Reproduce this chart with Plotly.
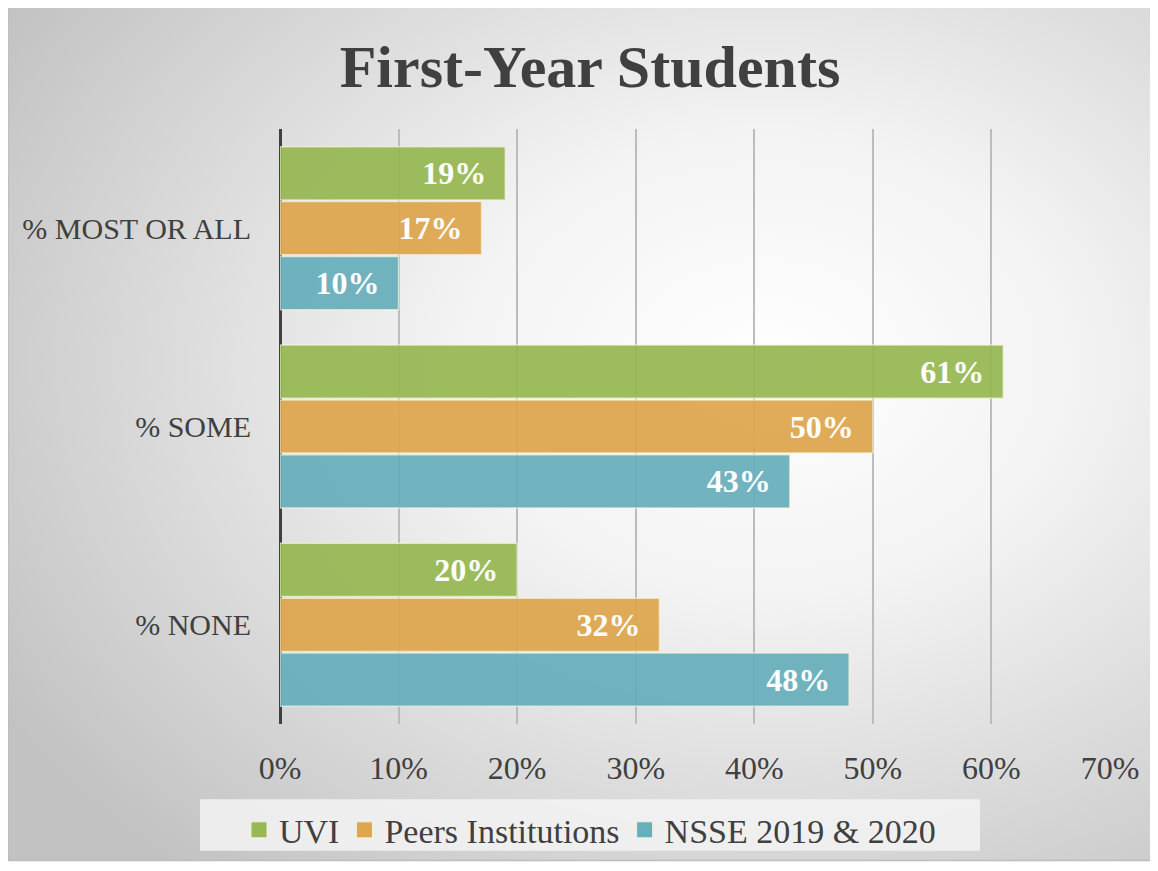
import base64
import plotly.graph_objects as go

categories = ["% MOST OR ALL", "% SOME", "% NONE"]
uvi = [0.19, 0.61, 0.20]
peers = [0.17, 0.50, 0.32]
nsse = [0.10, 0.43, 0.48]
series_names = ["UVI", "Peers Institutions", "NSSE 2019 & 2020"]
x_ticks = [0, 0.1, 0.2, 0.3, 0.4, 0.5, 0.6, 0.7]

colors = ["#97b853", "#dea64d", "#67afbb"]
SERIF = "Liberation Serif, Times New Roman, serif"

# page is offset by the 8px body margin, so figure coords = reference - 8
W, H = 1150, 863
L, R, T, B = 272, 48, 121, 141
PW, PH = W - L - R, H - T - B


def px_x(p):
    return (p - L) / PW


def px_y(p):
    return (H - B - p) / PH


fig = go.Figure()
for name, vals, col in zip(series_names, [uvi, peers, nsse], colors):
    fig.add_trace(go.Bar(
        y=categories, x=vals, name=name, orientation="h",
        marker=dict(color=col, opacity=0.93,
                    line=dict(color="rgba(245,245,225,0.7)", width=1.5)),
        texttemplate="%{x:.0%}\u00a0\u00a0",
        textposition="inside", insidetextanchor="end",
        textfont=dict(family=SERIF, size=32, color="white", weight="bold"),
        showlegend=False,
    ))
# legend swatches (square markers)
for name, col in zip(series_names, colors):
    fig.add_trace(go.Scatter(
        x=[None], y=[None], mode="markers", name=name,
        marker=dict(symbol="square", size=18, color=col,
                    line=dict(color="rgba(245,245,225,0.9)", width=1)),
        showlegend=True, hoverinfo="skip",
    ))

svg = (
    '<svg xmlns="http://www.w3.org/2000/svg" width="1147" height="863" '
    'viewBox="0 0 1147 863" preserveAspectRatio="none">'
    '<defs><radialGradient id="g" cx="0.66" cy="0.42" r="0.78" '
    'gradientUnits="objectBoundingBox">'
    '<stop offset="0" stop-color="#ffffff"/>'
    '<stop offset="0.35" stop-color="#f3f3f3"/>'
    '<stop offset="1" stop-color="#c2c2c2"/>'
    '</radialGradient></defs>'
    '<rect width="1147" height="863" fill="url(#g)"/></svg>'
)
src = "data:image/svg+xml;base64," + base64.b64encode(svg.encode()).decode()

x0, x1 = px_x(0), px_x(1147)
y_top, y_bot = px_y(-3), px_y(860)

fig.update_layout(
    width=W, height=H,
    margin=dict(l=L, r=R, t=T, b=B, pad=0),
    paper_bgcolor="white",
    plot_bgcolor="rgba(0,0,0,0)",
    barmode="group", bargap=0.17, bargroupgap=0.03,
    title=dict(text="<b>First-Year Students</b>", x=582 / W, y=1 - 58 / H,
               xanchor="center", yanchor="middle", xref="container", yref="container",
               font=dict(family=SERIF, size=60, color="#404040")),
    xaxis=dict(range=[0, 0.7], tickvals=x_ticks, tickformat=".0%",
               showgrid=True, gridcolor="#bcbcbc", gridwidth=1.5,
               zeroline=True, zerolinecolor="#404040", zerolinewidth=3,
               tickfont=dict(family=SERIF, size=32, color="#404040"),
               ticks="", ticklabelstandoff=22, fixedrange=True),
    yaxis=dict(autorange="reversed", showgrid=False, zeroline=False,
               tickfont=dict(family=SERIF, size=30, color="#404040"),
               ticks="", ticklabelstandoff=28, fixedrange=True),
    legend=dict(orientation="h", x=px_x(582), xanchor="center",
                y=px_y(800), yanchor="top",
                bgcolor="rgba(0,0,0,0)", borderwidth=0,
                font=dict(family=SERIF, size=34, color="#404040"),
                itemsizing="trace", traceorder="normal"),
    showlegend=True,
    images=[dict(source=src, xref="paper", yref="paper", x=x0, y=y_top,
                 sizex=x1 - x0, sizey=y_top - y_bot, sizing="stretch",
                 xanchor="left", yanchor="top", layer="below")],
    shapes=[
        dict(type="rect", xref="paper", yref="paper", x0=x0, x1=x1,
             y0=y_bot, y1=y_top, line=dict(color="#bdbdbd", width=1.5),
             fillcolor="rgba(0,0,0,0)", layer="below"),
        dict(type="rect", xref="paper", yref="paper",
             x0=px_x(192), x1=px_x(972), y0=px_y(850), y1=px_y(798),
             line=dict(width=0), fillcolor="rgba(243,243,243,0.85)", layer="below"),
    ],
)

fig.write_html("out.html")
